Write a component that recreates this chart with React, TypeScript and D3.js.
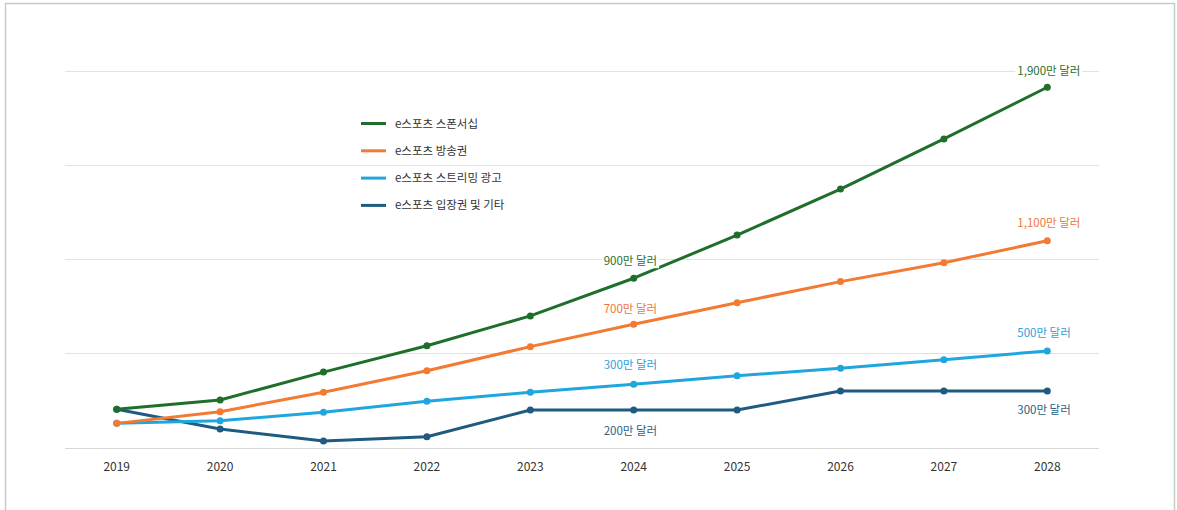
import React, { useEffect, useRef } from "react";
import * as d3 from "d3";

const years = ["2019", "2020", "2021", "2022", "2023", "2024", "2025", "2026", "2027", "2028"];
const seriesNames = ["e스포츠 스폰서십", "e스포츠 방송권", "e스포츠 스트리밍 광고", "e스포츠 입장권 및 기타"];
const sponsorship = [203, 252, 400, 540, 698, 898, 1127, 1371, 1637, 1911];
const broadcast = [128, 190, 293, 407, 535, 654, 768, 880, 980, 1097];
const streaming = [128, 142, 187, 245, 293, 335, 381, 420, 466, 512];
const tickets = [203, 98, 34, 57, 199, 199, 199, 300, 300, 300];
const yTicks = [0, 500, 1000, 1500, 2000];
const lineColors = ["#1f6f2b", "#f27a33", "#1fa6df", "#1f5b80"];
const labelColors = ["#2b6e2e", "#ec7540", "#2ea0d8", "#2a5f84"];

type Ann = { series: number; year: string; text: string; dy: number };
const annotations: Ann[] = [
  { series: 0, year: "2024", text: "900만 달러", dy: -17 },
  { series: 1, year: "2024", text: "700만 달러", dy: -15 },
  { series: 2, year: "2024", text: "300만 달러", dy: -19 },
  { series: 3, year: "2024", text: "200만 달러", dy: 21 },
  { series: 0, year: "2028", text: "1,900만 달러", dy: -16 },
  { series: 1, year: "2028", text: "1,100만 달러", dy: -18 },
  { series: 2, year: "2028", text: "500만 달러", dy: -18 },
  { series: 3, year: "2028", text: "300만 달러", dy: 19 },
];

export default function App() {
  const ref = useRef<SVGSVGElement>(null);
  useEffect(() => {
    const svg = d3.select(ref.current);
    svg.selectAll("*").remove();
    const font = "'Noto Sans CJK KR', 'Noto Sans', sans-serif";
    const data = [sponsorship, broadcast, streaming, tickets];

    svg.append("rect").attr("x", 5.5).attr("y", 3.5).attr("width", 1169).attr("height", 530)
      .attr("fill", "#fff").attr("stroke", "#c9c9c9").attr("stroke-width", 1.5);

    const x = d3.scaleBand().domain(years).range([65, 1099]);
    const cx = (yr: string) => (x(yr) as number) + x.bandwidth() / 2;
    const y = d3.scaleLinear().domain([0, 2000]).range([447.5, 70.5]);

    const grid = svg.append("g");
    yTicks.forEach((t) => {
      grid.append("line").attr("x1", 65).attr("x2", 1099)
        .attr("y1", Math.round(y(t)) + 0.5).attr("y2", Math.round(y(t)) + 0.5)
        .attr("stroke", t === 0 ? "#d6d6d6" : "#e2e2e2").attr("stroke-width", 1);
    });

    svg.append("g").selectAll("text").data(years).join("text")
      .attr("x", (d) => cx(d)).attr("y", 470.5).attr("text-anchor", "middle")
      .attr("font-family", font).attr("font-size", 12).attr("fill", "#333")
      .text((d) => d);

    const line = d3.line<number>().x((_, i) => cx(years[i])).y((v) => y(v));
    const order = [3, 2, 1, 0];
    order.forEach((s) => {
      const g = svg.append("g");
      g.append("path").attr("d", line(data[s]) as string).attr("fill", "none")
        .attr("stroke", lineColors[s]).attr("stroke-width", 3).attr("stroke-linejoin", "round");
      g.selectAll("circle").data(data[s]).join("circle")
        .attr("cx", (_, i) => cx(years[i])).attr("cy", (v) => y(v)).attr("r", 3.5)
        .attr("fill", lineColors[s]);
    });

    // legend
    const lg = svg.append("g");
    seriesNames.forEach((n, i) => {
      const ly = 123.5 + i * 27.3;
      lg.append("line").attr("x1", 361).attr("x2", 386).attr("y1", ly).attr("y2", ly)
        .attr("stroke", lineColors[i]).attr("stroke-width", 3);
      lg.append("text").attr("x", 395).attr("y", ly + 4).attr("font-family", font)
        .attr("font-size", 11.5).attr("fill", "#333").text(n);
    });

    // annotations
    const ag = svg.append("g");
    annotations.forEach((a) => {
      const vx = cx(a.year);
      const vy = y(data[a.series][years.indexOf(a.year)]);
      const g = ag.append("g");
      const rect = g.append("rect").attr("fill", "#fff");
      const t = g.append("text").attr("x", vx - 30).attr("y", vy + a.dy + 4)
        .attr("font-family", font).attr("font-size", 11.5).attr("fill", labelColors[a.series])
        .text(a.text);
      const bb = (t.node() as SVGTextElement).getBBox();
      rect.attr("x", bb.x - 2).attr("y", bb.y).attr("width", bb.width + 4).attr("height", bb.height);
    });
  }, []);

  return (
    <div style={{ position: "absolute", left: 0, top: 0 }}>
      <svg ref={ref} width={1177} height={510} style={{ display: "block" }} />
    </div>
  );
}
